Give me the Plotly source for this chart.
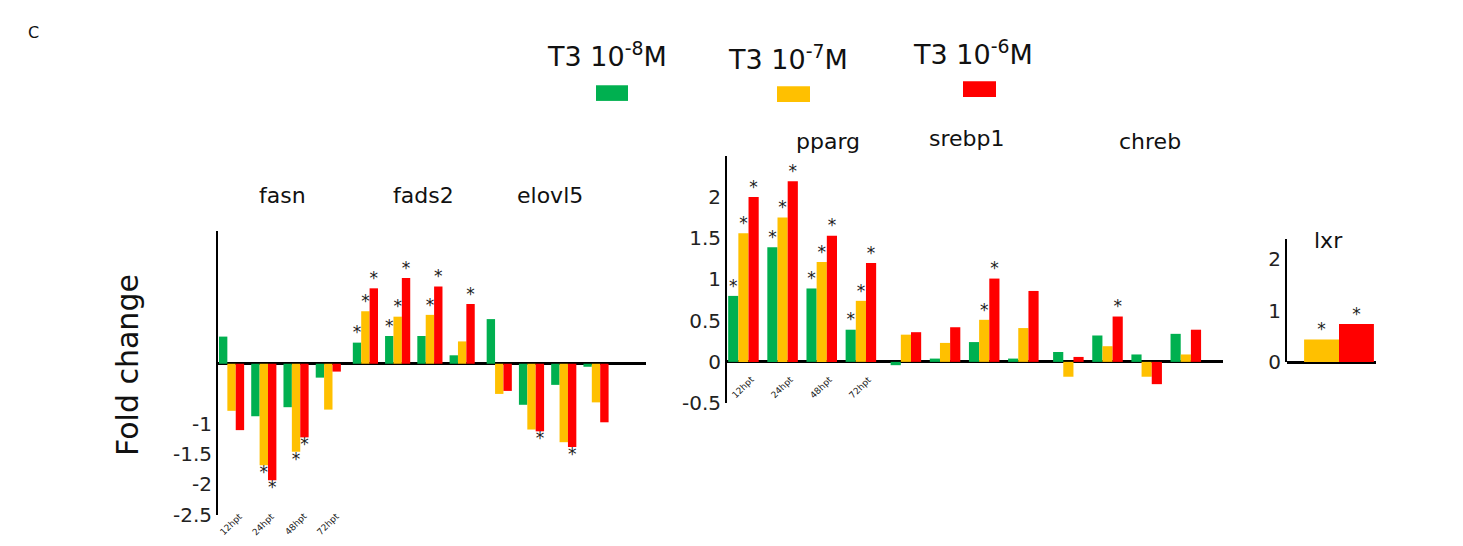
import plotly.graph_objects as go

W, H = 1463, 546
GREEN, YELLOW, RED = "#00b050", "#ffc000", "#ff0000"
FONT = "DejaVu Sans"

times = ["12hpt", "24hpt", "48hpt", "72hpt"]

# Left panel: fasn, fads2, elovl5 (4 time points each)
left_genes = ["fasn", "fads2", "elovl5"]
left_g = [0.45, -0.87, -0.72, -0.23, 0.35, 0.46, 0.46, 0.14, 0.74, -0.68, -0.35, -0.05]
left_y = [-0.78, -1.68, -1.46, -0.76, 0.87, 0.78, 0.81, 0.37, -0.50, -1.09, -1.30, -0.64]
left_r = [-1.10, -1.93, -1.22, -0.13, 1.25, 1.42, 1.28, 0.99, -0.45, -1.12, -1.38, -0.97]
left_sg = [0, 0, 0, 0, 1, 1, 0, 0, 0, 0, 0, 0]
left_sy = [0, 1, 1, 0, 1, 1, 1, 0, 0, 0, 0, 0]
left_sr = [0, 1, 1, 0, 1, 1, 1, 1, 0, 1, 1, 0]

# Middle panel: pparg, srebp1, chreb
mid_genes = ["pparg", "srebp1", "chreb"]
mid_g = [0.80, 1.39, 0.89, 0.39, -0.04, 0.04, 0.24, 0.04, 0.12, 0.32, 0.09, 0.34]
mid_y = [1.56, 1.75, 1.21, 0.74, 0.33, 0.23, 0.51, 0.41, -0.18, 0.19, -0.18, 0.09]
mid_r = [2.00, 2.19, 1.53, 1.20, 0.36, 0.42, 1.01, 0.86, 0.06, 0.55, -0.27, 0.39]
mid_sg = [1, 1, 1, 1, 0, 0, 0, 0, 0, 0, 0, 0]
mid_sy = [1, 1, 1, 1, 0, 0, 1, 0, 0, 0, 0, 0]
mid_sr = [1, 1, 1, 1, 0, 0, 1, 0, 0, 1, 0, 0]

# Right panel: lxr
lxr_vals = [0.44, 0.74]
lxr_stars = [1, 1]

fig = go.Figure()
BW = 0.26
GAP = 0.15

def centers():
    return [i + (i // 4) * GAP for i in range(12)]

def add_panel(xa, ya, vals_list, stars_list, colors):
    c = centers()
    for j, (vals, stars, col) in enumerate(zip(vals_list, stars_list, colors)):
        xs = [ci + (j - 1) * BW for ci in c]
        fig.add_trace(go.Bar(x=xs, y=vals, width=BW, marker_color=col,
                             marker_line_width=0, xaxis=xa, yaxis=ya, showlegend=False))
        sx = [x for x, v, s in zip(xs, vals, stars) if s]
        sv = [v for v, s in zip(vals, stars) if s]
        fig.add_trace(go.Scatter(x=sx, y=sv, mode="text", text=["*"] * len(sx),
                                 textposition=["top center" if v >= 0 else "bottom center" for v in sv],
                                 textfont=dict(size=17, color="#222", family=FONT),
                                 xaxis=xa, yaxis=ya, showlegend=False, hoverinfo="skip"))

add_panel("x", "y", [left_g, left_y, left_r], [left_sg, left_sy, left_sr], [GREEN, YELLOW, RED])
add_panel("x2", "y2", [mid_g, mid_y, mid_r], [mid_sg, mid_sy, mid_sr], [GREEN, YELLOW, RED])

lx = [0, 1]
fig.add_trace(go.Bar(x=lx, y=lxr_vals, width=1, marker_color=[YELLOW, RED], marker_line_width=0,
                     xaxis="x3", yaxis="y3", showlegend=False))
fig.add_trace(go.Scatter(x=[x for x, s in zip(lx, lxr_stars) if s],
                         y=[v for v, s in zip(lxr_vals, lxr_stars) if s],
                         mode="text", text=["*"] * sum(lxr_stars), textposition="top center",
                         textfont=dict(size=17, color="#222", family=FONT),
                         xaxis="x3", yaxis="y3", showlegend=False, hoverinfo="skip"))

def px(x): return x / W
def py(y): return 1 - y / H

xcommon = dict(showgrid=False, zeroline=False, showticklabels=False, showline=False, fixedrange=True)
ycommon = dict(showgrid=False, zeroline=True, zerolinecolor="black", zerolinewidth=2.5,
               showline=True, linecolor="black", linewidth=2, ticks="",
               tickfont=dict(size=20, family=FONT, color="#222"))

fig.update_layout(
    width=W, height=H, margin=dict(l=0, r=0, t=0, b=0),
    plot_bgcolor="white", paper_bgcolor="white", barmode="overlay",
    xaxis=dict(domain=[px(210), px(638)], range=[-0.42, 12.85], anchor="y", **xcommon),
    yaxis=dict(domain=[py(518), py(228)], range=[-2.5, 2.2], anchor="x",
               tickvals=[-2.5, -2, -1.5, -1], ticktext=["-2.5", "-2", "-1.5", "-1"], **ycommon),
    xaxis2=dict(domain=[px(719), px(1215)], range=[-0.42, 12.25], anchor="y2", **xcommon),
    yaxis2=dict(domain=[py(404), py(151)], range=[-0.5, 2.5], anchor="x2",
                tickvals=[-0.5, 0, 0.5, 1, 1.5, 2], ticktext=["-0.5", "0", "0.5", "1", "1.5", "2"], **ycommon),
    xaxis3=dict(domain=[px(1279), px(1368)], range=[-0.99, 1.56], anchor="y3", **xcommon),
    yaxis3=dict(domain=[py(362), py(236)], range=[0, 2.4], anchor="x3",
                tickvals=[0, 1, 2], **ycommon),
)

ann = []
def text(x, y, s, size, **kw):
    ann.append(dict(x=px(x), y=py(y), xref="paper", yref="paper", text=s, showarrow=False,
                    xanchor="center", yanchor="middle",
                    font=dict(size=size, family=FONT, color="#111"), **kw))

text(25, 25, "C", 16)
text(120, 365, "Fold change", 30, textangle=-90)
text(599, 48, "T3 10<sup>-8</sup>M", 27)
text(780, 51, "T3 10<sup>-7</sup>M", 27)
text(965, 46, "T3 10<sup>-6</sup>M", 27)
for (x, y), g in zip([(280, 192), (421, 192), (548, 192)], left_genes):
    text(x - 6, y, g, 22)
for (x, y), g in zip([(826, 136), (965, 133), (1148, 136)], mid_genes):
    text(x - 6, y, g, 22)
text(1320, 238, "lxr", 22)

c = centers()
for i, t in enumerate(times):
    ann.append(dict(x=c[i], y=py(528), xref="x", yref="paper", text=t, showarrow=False,
                    xanchor="center", yanchor="middle",
                    textangle=-45, font=dict(size=9, family=FONT, color="#222")))
    ann.append(dict(x=c[i], y=py(388), xref="x2", yref="paper", text=t, showarrow=False,
                    xanchor="center", yanchor="middle",
                    textangle=-45, font=dict(size=9, family=FONT, color="#222")))
fig.update_layout(annotations=ann)

shapes = []
for (x0, y0, x1, y1), col in zip([(588, 79, 620, 95), (769, 80, 802, 96), (955, 75, 988, 91)],
                                 [GREEN, YELLOW, RED]):
    shapes.append(dict(type="rect", xref="paper", yref="paper", x0=px(x0), x1=px(x1),
                       y0=py(y1), y1=py(y0), fillcolor=col, line_width=0))
fig.update_layout(shapes=shapes)

fig.write_html("out.html")
